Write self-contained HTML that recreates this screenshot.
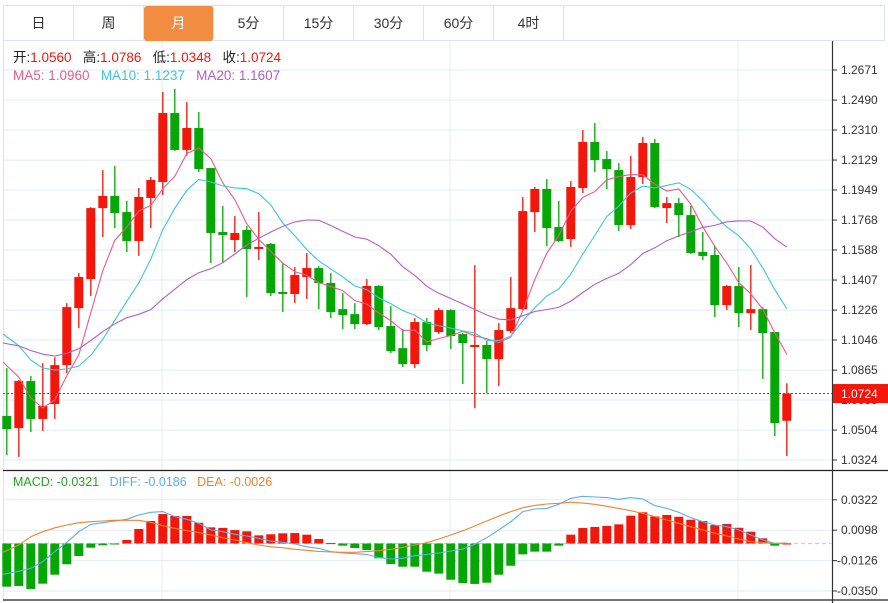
<!DOCTYPE html>
<html><head><meta charset="utf-8">
<style>
body{margin:0;width:888px;height:603px;overflow:hidden;background:#fff;font-family:"Liberation Sans","Noto Sans CJK SC",sans-serif;}
#tabs{position:absolute;left:3px;top:5px;height:36px;width:882px;border:1px solid #dde3ea;box-sizing:border-box;}
.tab{position:absolute;top:0;height:35px;width:70px;line-height:35px;text-align:center;font-size:14px;color:#333;border-right:1px solid #dde3ea;box-sizing:border-box;}
.tab.on{background:#f28c40;color:#fff;border-radius:3px;}
svg{position:absolute;left:0;top:0;}
</style></head><body>
<div id="tabs">
<div class="tab" style="left:0">日</div>
<div class="tab" style="left:70px">周</div>
<div class="tab on" style="left:140px">月</div>
<div class="tab" style="left:210px">5分</div>
<div class="tab" style="left:280px">15分</div>
<div class="tab" style="left:350px">30分</div>
<div class="tab" style="left:420px">60分</div>
<div class="tab" style="left:490px">4时</div>
</div>
<svg id="chart" width="888" height="603" xmlns="http://www.w3.org/2000/svg"></svg>
<script>
const priorCloses=[1.115,1.112,1.110,1.1104,1.092,1.088,1.085,1.084,1.087,1.0906,1.150,1.144,1.112,1.1024,1.1171,1.1249,1.1201,1.0949,1.0656];
const opens=[1.0589,1.0516,1.0799,1.0571,1.0661,1.0895,1.1238,1.1413,1.1840,1.1913,1.1816,1.1642,1.1901,1.1997,1.2412,1.2190,1.2322,1.2081,1.1696,1.1648,1.1708,1.1594,1.1624,1.1335,1.1323,1.1425,1.1479,1.1389,1.1232,1.1202,1.1142,1.1371,1.1130,1.0997,1.0901,1.1154,1.1094,1.1226,1.1082,1.1004,1.1016,1.0931,1.1100,1.1232,1.1816,1.1955,1.1726,1.1654,1.1961,1.2238,1.2135,1.2069,1.1738,1.2027,1.2232,1.1840,1.1870,1.1798,1.1576,1.1558,1.1256,1.1371,1.1208,1.1232,1.1094,1.0560];
const closes=[1.0510,1.0799,1.0571,1.0649,1.0895,1.1244,1.1425,1.1840,1.1913,1.1810,1.1642,1.1907,1.2009,1.2412,1.2190,1.2322,1.2075,1.1690,1.1678,1.1690,1.1594,1.1606,1.1329,1.1323,1.1437,1.1479,1.1389,1.1214,1.1196,1.1142,1.1371,1.1124,1.0979,1.0901,1.1154,1.1016,1.1226,1.1070,1.1028,1.1016,1.0931,1.1106,1.1238,1.1822,1.1955,1.1720,1.1642,1.1967,1.2238,1.2129,1.2075,1.1738,1.2027,1.2232,1.1846,1.1870,1.1798,1.1570,1.1552,1.1256,1.1371,1.1208,1.1232,1.1088,1.0546,1.0724];
const highs=[1.0877,1.0805,1.0829,1.0907,1.0943,1.1268,1.1449,1.1846,1.2069,1.2093,1.1883,1.1961,1.2027,1.2539,1.2557,1.2478,1.2418,1.2081,1.1853,1.1792,1.1732,1.1816,1.1630,1.1509,1.1485,1.1570,1.1491,1.1449,1.1329,1.1268,1.1413,1.1377,1.1250,1.1112,1.1178,1.1178,1.1238,1.1232,1.1088,1.1497,1.1040,1.1148,1.1425,1.1907,1.1967,1.2015,1.1883,1.2003,1.2310,1.2352,1.2184,1.2111,1.2154,1.2268,1.2256,1.1907,1.1901,1.1853,1.1696,1.1612,1.1377,1.1485,1.1497,1.1244,1.1094,1.0786];
const lows=[1.0354,1.0342,1.0492,1.0498,1.0571,1.0847,1.1117,1.1311,1.1666,1.1720,1.1576,1.1552,1.1720,1.1919,1.2184,1.2154,1.2057,1.1509,1.1515,1.1576,1.1305,1.1527,1.1311,1.1214,1.1268,1.1292,1.1232,1.1178,1.1112,1.1112,1.1136,1.1106,1.0967,1.0883,1.0877,1.0979,1.1082,1.0991,1.0781,1.0636,1.0727,1.0769,1.1088,1.1226,1.1696,1.1612,1.1636,1.1606,1.1931,1.2057,1.1955,1.1702,1.1714,1.1985,1.1840,1.1750,1.1666,1.1564,1.1527,1.1184,1.1226,1.1124,1.1106,1.0811,1.0468,1.0348];
const macdHist=[-0.0318,-0.0313,-0.0335,-0.0296,-0.0230,-0.0153,-0.0092,-0.0031,-0.0013,-0.0002,0.0026,0.0107,0.0166,0.0217,0.0203,0.0203,0.0153,0.0119,0.0115,0.0099,0.0090,0.0060,0.0068,0.0075,0.0077,0.0065,0.0033,0.0003,-0.0016,-0.0033,-0.0048,-0.0109,-0.0151,-0.0171,-0.0171,-0.0208,-0.0222,-0.0267,-0.0291,-0.0298,-0.0289,-0.0230,-0.0164,-0.0080,-0.0060,-0.0060,-0.0016,0.0065,0.0114,0.0122,0.0129,0.0141,0.0205,0.0230,0.0200,0.0210,0.0197,0.0175,0.0166,0.0136,0.0144,0.0116,0.0087,0.0038,-0.0016,0];
const diffLine=[-0.0227,-0.0205,-0.0183,-0.0134,-0.0060,0.0009,0.0087,0.0141,0.0153,0.0166,0.0178,0.0210,0.0230,0.0235,0.0198,0.0178,0.0149,0.0100,0.0087,0.0068,0.0055,0.0038,0.0018,0.0009,-0.0004,-0.0024,-0.0036,-0.0060,-0.0070,-0.0075,-0.0080,-0.0104,-0.0114,-0.0109,-0.0090,-0.0080,-0.0070,-0.0055,-0.0041,-0.0006,0.0043,0.0100,0.0161,0.0235,0.0254,0.0259,0.0289,0.0333,0.0348,0.0343,0.0338,0.0326,0.0338,0.0328,0.0279,0.0259,0.0230,0.0190,0.0161,0.0136,0.0124,0.0100,0.0063,0.0026,0.0001,0.0003];
const deaLine=[-0.0065,-0.0011,0.0050,0.0087,0.0116,0.0136,0.0153,0.0161,0.0166,0.0171,0.0171,0.0171,0.0156,0.0131,0.0112,0.0094,0.0080,0.0063,0.0043,0.0026,0.0006,-0.0011,-0.0024,-0.0031,-0.0043,-0.0050,-0.0058,-0.0063,-0.0065,-0.0065,-0.0060,-0.0053,-0.0043,-0.0028,-0.0011,0.0006,0.0033,0.0063,0.0094,0.0129,0.0166,0.0203,0.0235,0.0264,0.0281,0.0291,0.0296,0.0304,0.0298,0.0289,0.0274,0.0259,0.0242,0.0222,0.0198,0.0173,0.0149,0.0124,0.0100,0.0075,0.0055,0.0033,0.0013,0.0006,0.0001,0.0003];
const priceTicks=[1.2671,1.2490,1.2310,1.2129,1.1949,1.1768,1.1588,1.1407,1.1226,1.1046,1.0865,1.0685,1.0504,1.0324];
const macdTicks=[0.0322,0.0098,-0.0126,-0.0350];
const lastPrice=1.0724;

const NS='http://www.w3.org/2000/svg';
const svg=document.getElementById('chart');
const RED='#f2170a',GREEN='#06a606',GRID='#e2ebf2';
function py(v){return 70+(1.2671-v)*1661.7;}
function my(v){return 543.5-v*1357;}
function xc(i){return 6.8+12*i;}
function mk(tag,attrs,parent){const e=document.createElementNS(NS,tag);for(const k in attrs)e.setAttribute(k,attrs[k]);(parent||svg).appendChild(e);return e;}

const grid=mk('g',{});


priceTicks.forEach(t=>{mk('line',{x1:3,x2:832,y1:py(t),y2:py(t),stroke:GRID,'stroke-width':1},grid);});
macdTicks.forEach(t=>{mk('line',{x1:3,x2:832,y1:my(t),y2:my(t),stroke:GRID,'stroke-width':1},grid);});
[162,450,738].forEach(x=>{mk('line',{x1:x,x2:x,y1:41,y2:600,stroke:GRID,'stroke-width':1},grid);});
mk('line',{x1:3.5,x2:3.5,y1:41,y2:600,stroke:'#dde3ea'},grid);

mk('line',{x1:3,x2:888,y1:470.5,y2:470.5,stroke:'#222','stroke-width':1.2});
mk('line',{x1:3,x2:888,y1:600,y2:600,stroke:'#222','stroke-width':1.2});
mk('line',{x1:832.5,x2:832.5,y1:41,y2:603,stroke:'#333','stroke-width':1.2});

const ax=mk('g',{'font-size':12,fill:'#333','font-family':'Liberation Sans, sans-serif'});


priceTicks.forEach(t=>{mk('line',{x1:832,x2:837,y1:py(t),y2:py(t),stroke:'#333'},ax);const tx=mk('text',{x:841,y:py(t)+4},ax);tx.textContent=t.toFixed(4);});
const ax2=mk('g',{'font-size':12,fill:'#333','font-family':'Liberation Sans, sans-serif'});


macdTicks.forEach(t=>{mk('line',{x1:832,x2:837,y1:my(t),y2:my(t),stroke:'#333'},ax2);const tx=mk('text',{x:t<0?837:841,y:my(t)+4},ax2);tx.textContent=(t<0?'-':'')+Math.abs(t).toFixed(4);});

const allC=priorCloses.concat(closes);
function ma(n){const out=[];for(let i=0;i<closes.length;i++){let s=0;const j=i+priorCloses.length;for(let k=j-n+1;k<=j;k++)s+=allC[k];out.push(s/n);}return out;}
function poly(vals,yf,color,name,x0){let d='';vals.forEach((v,i)=>{const x=(i===0&&x0!==undefined)?x0:xc(i);d+=(i?'L':'M')+x.toFixed(1)+' '+yf(v).toFixed(1);});const p=mk('path',{d:d,fill:'none',stroke:color,'stroke-width':1.1});return p;}

const cg=mk('g',{});


closes.forEach((c,i)=>{
  const o=opens[i],h=highs[i],l=lows[i];const col=c>=o?RED:GREEN;const x=xc(i);
  const g=mk('g',{},cg);
  
  
  mk('line',{x1:x,x2:x,y1:py(h),y2:py(l),stroke:col,'stroke-width':1.3},g);
  const top=py(Math.max(o,c)),bot=py(Math.min(o,c));
  mk('rect',{x:x-4.5,y:top,width:9,height:Math.max(bot-top,2),fill:col},g);
});
poly(ma(5),py,'#ec5a86','ma5-line',3);
poly(ma(10),py,'#3cc6dc','ma10-line',3);
poly(ma(20),py,'#b35ec9','ma20-line',3);

const lp=mk('line',{x1:3,x2:832,y1:py(lastPrice),y2:py(lastPrice),stroke:RED,'stroke-width':1,'stroke-dasharray':'2,2'});


const lpr=mk('rect',{x:833,y:py(lastPrice)-9.5,width:55,height:19,fill:'#f2170a'});


const lpt=mk('text',{x:841,y:py(lastPrice)+4.5,fill:'#fff','font-size':12,'font-family':'Liberation Sans, sans-serif'});
lpt.textContent='1.0724';



const z=mk('line',{x1:3,x2:832,y1:my(0),y2:my(0),stroke:'#a8dcef','stroke-width':1.2,'stroke-dasharray':'4,3'});


const hg=mk('g',{});


macdHist.forEach((v,i)=>{const y0=my(0),y1=my(v);const r=mk('rect',{x:xc(i)-4.5,y:Math.min(y0,y1),width:9,height:Math.max(Math.abs(y1-y0),1),fill:v>=0?RED:GREEN},hg);});
poly(diffLine,my,'#5aaef0','diff-line',3);
poly(deaLine,my,'#f5812e','dea-line',3);

function legend(y,items,name,fs){const t=mk('text',{x:13,y:y,'font-size':fs,'font-family':'Liberation Sans, Noto Sans CJK SC, sans-serif'});items.forEach(([s,c])=>{const sp=mk('tspan',{fill:c},t);sp.textContent=s;});}
legend(62,[['开:','#222'],['1.0560','#f2170a'],['\u00a0\u00a0\u00a0高:','#222'],['1.0786','#f2170a'],['\u00a0\u00a0\u00a0低:','#222'],['1.0348','#f2170a'],['\u00a0\u00a0\u00a0收:','#222'],['1.0724','#f2170a']],'ohlc-legend',13.5);
legend(80,[['MA5: 1.0960','#ec5a86'],['\u00a0\u00a0\u00a0MA10: 1.1237','#3cc6dc'],['\u00a0\u00a0\u00a0MA20: 1.1607','#b35ec9']],'ma-legend',13.5);
legend(486,[['MACD: -0.0321','#22a722'],['\u00a0\u00a0\u00a0DIFF: -0.0186','#5aaef0'],['\u00a0\u00a0\u00a0DEA: -0.0026','#f5812e']],'macd-legend',12.5);
</script>
</body></html>
